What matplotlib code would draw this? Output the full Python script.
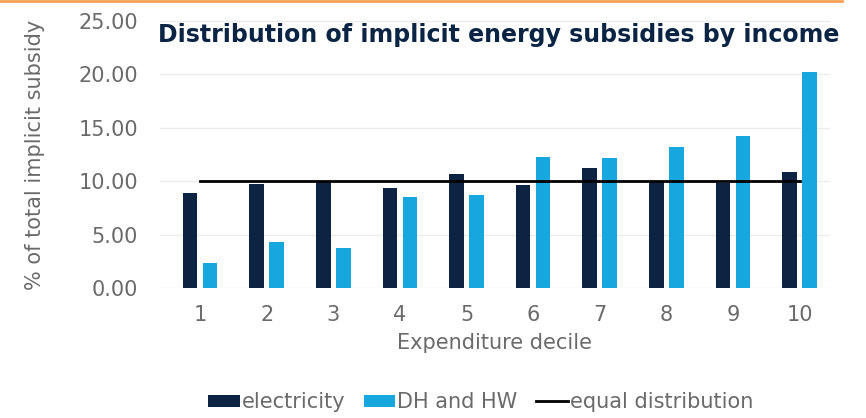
import numpy as np
import matplotlib
matplotlib.use("Agg")
import matplotlib.pyplot as plt
from matplotlib.lines import Line2D

deciles = ["1", "2", "3", "4", "5", "6", "7", "8", "9", "10"]
electricity = [8.9, 9.7, 9.9, 9.4, 10.7, 9.6, 11.2, 10.0, 9.8, 10.9]
dh_hw = [2.3, 4.3, 3.7, 8.5, 8.7, 12.3, 12.2, 13.2, 14.2, 20.2]
equal = [10.0] * 10
yticks = [0, 5, 10, 15, 20, 25]

dark = "#0c2341"
light = "#15a7de"
grey = "#6a6a6a"

plt.rcParams["font.family"] = ["DejaVu Sans"]

fig = plt.figure(figsize=(8.66, 4.18), dpi=100)
ax = fig.add_axes([0.1848, 0.311, 0.7732, 0.6387])

x = np.arange(1, len(deciles) + 1)
w = 0.22
b1 = ax.bar(x - 0.15, electricity, w, color=dark, label="electricity", zorder=2)
b2 = ax.bar(x + 0.15, dh_hw, w, color=light, label="DH and HW", zorder=2)
l1, = ax.plot(x, equal, color="black", lw=2.0, label="equal distribution", zorder=3)

ax.set_xlim(0.4, 10.45)
ax.set_ylim(0, 25)
ax.set_yticks(yticks)
ax.set_yticklabels(["%.2f" % t for t in yticks])
ax.set_xticks(x)
ax.set_xticklabels(deciles)
ax.tick_params(axis="both", length=0, labelsize=15, labelcolor=grey)
ax.tick_params(axis="y", pad=16)
ax.tick_params(axis="x", pad=12)
ax.grid(axis="y", color="#ececec", lw=1, zorder=0)
for s in ax.spines.values():
    s.set_visible(False)

ax.set_xlabel("Expenditure decile", fontsize=15, color=grey, labelpad=6)
ax.set_ylabel("% of total implicit subsidy", fontsize=15, color=grey, labelpad=24)

fig.text(0.182, 0.916, "Distribution of implicit energy subsidies by income",
         fontsize=17, fontweight="bold", color="#0b2444", ha="left", va="center")

fig.legend(handles=[b1, b2, l1], loc="center", bbox_to_anchor=(0.555, 0.038),
           ncol=3, frameon=False, fontsize=15, labelcolor=grey,
           handlelength=1.5, handleheight=0.5, handletextpad=0.1,
           columnspacing=0.9)

fig.add_artist(Line2D([0, 0.972], [0.997, 0.997], transform=fig.transFigure,
                      color="#f5a052", lw=2))

fig.savefig("out.png", dpi=100)
